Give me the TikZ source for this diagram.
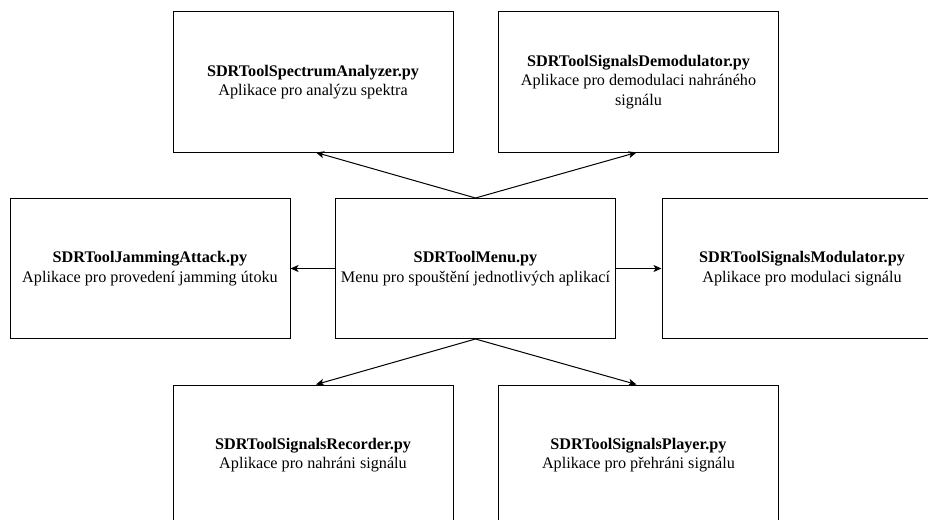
\documentclass[tikz,border=0pt]{standalone}
\usepackage{fontspec}
\setmainfont{Liberation Serif}
\usetikzlibrary{arrows.meta}
\begin{document}
\begin{tikzpicture}[x=1pt,y=-1pt,
  modbox/.style={draw=black, line width=1pt, minimum width=280pt, minimum height=140pt,
    align=center, font=\fontsize{16.2}{19.5}\selectfont, inner sep=0pt},
  link/.style={draw=black, line width=1pt, -{Stealth[length=8pt,width=7pt,inset=2pt]}}]
  \useasboundingbox (0,0) rectangle (928,519);
  \clip (0,0) rectangle (928,519);
  % top row
  \node[modbox] (spec) at (313,82) {\textbf{SDRToolSpectrumAnalyzer.py}\\Aplikace pro analýzu spektra};
  \node[modbox] (demod) at (638.5,82) {\textbf{SDRToolSignalsDemodulator.py}\\Aplikace pro demodulaci nahráného\\signálu};
  % middle row
  \node[modbox] (jam) at (150,268.5) {\textbf{SDRToolJammingAttack.py}\\Aplikace pro provedení jamming útoku};
  \node[modbox] (menu) at (475.5,268.5) {\textbf{SDRToolMenu.py}\\Menu pro spouštění jednotlivých aplikací};
  \node[modbox] (mod) at (802,268.5) {\textbf{SDRToolSignalsModulator.py}\\Aplikace pro modulaci signálu};
  % bottom row
  \node[modbox] (rec) at (313,455) {\textbf{SDRToolSignalsRecorder.py}\\Aplikace pro nahráni signálu};
  \node[modbox] (play) at (638.5,455) {\textbf{SDRToolSignalsPlayer.py}\\Aplikace pro přehráni signálu};
  % connectors from the menu
  \draw[link] (menu.north) -- ([xshift=3pt]spec.south);
  \draw[link] (menu.north) -- ([xshift=-2pt]demod.south);
  \draw[link] (menu.west) -- (jam.east);
  \draw[link] (menu.east) -- (mod.west);
  \draw[link] (menu.south) -- ([xshift=3pt]rec.north);
  \draw[link] (menu.south) -- ([xshift=-2pt]play.north);
\end{tikzpicture}
\end{document}
